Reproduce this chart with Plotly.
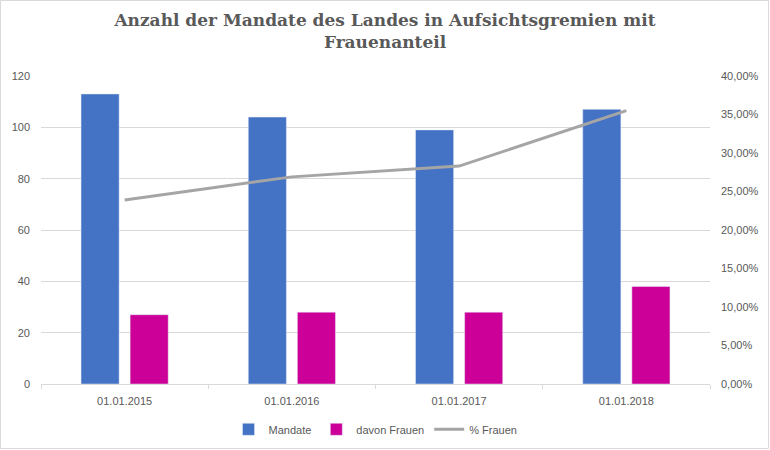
import plotly.graph_objects as go

categories = ["01.01.2015", "01.01.2016", "01.01.2017", "01.01.2018"]
mandate = [113, 104, 99, 107]
frauen = [27, 28, 28, 38]
pct_frauen = [0.239, 0.269, 0.283, 0.355]

W, H = 770, 450
L, R, T, B = 41, 60, 76, 66

fig = go.Figure()
fig.add_trace(go.Bar(x=categories, y=mandate, name="Mandate", marker_color="#4472C4"))
fig.add_trace(go.Bar(x=categories, y=frauen, name="davon Frauen", marker_color="#CC0099"))
fig.add_trace(go.Scatter(x=categories, y=pct_frauen, name="% Frauen", yaxis="y2",
                         mode="lines", line=dict(color="#A5A5A5", width=3)))

tickfont = dict(family="Liberation Sans, Arial, sans-serif", size=11, color="#595959")

fig.update_layout(
    width=W, height=H,
    margin=dict(l=L, r=R, t=T, b=B, autoexpand=False),
    paper_bgcolor="white", plot_bgcolor="white",
    separators=",.",
    barmode="group", bargap=0.413, bargroupgap=0.224,
    title=dict(text="<b>Anzahl der Mandate des Landes in Aufsichtsgremien mit<br>Frauenanteil</b>",
               x=0.5, xanchor="center", y=0.942, yanchor="top",
               font=dict(family="DejaVu Serif, serif", size=17, color="#595959")),
    xaxis=dict(showgrid=False, showline=True, linecolor="#D9D9D9", linewidth=1,
               ticks="outside", tickson="boundaries", ticklen=4, tickcolor="#D9D9D9",
               tickfont=tickfont, ticklabelstandoff=7, automargin=False),
    yaxis=dict(range=[0, 120], dtick=20, showgrid=True, gridcolor="#D9D9D9",
               zeroline=False, showline=False, tickfont=tickfont, ticklabelstandoff=10,
               automargin=False),
    yaxis2=dict(range=[0, 0.4], dtick=0.05, tickformat=".2%", overlaying="y", side="right",
                showgrid=False, zeroline=False, showline=False, tickfont=tickfont,
                ticklabelstandoff=10, automargin=False),
    legend=dict(orientation="h", x=0.5, xanchor="center", y=-0.1, yanchor="top",
                font=tickfont, traceorder="normal", itemwidth=30),
    shapes=[dict(type="rect", xref="paper", yref="paper",
                 x0=-(L - 0.5) / (W - L - R), x1=1 + (R - 1.5) / (W - L - R),
                 y0=-(B - 1.5) / (H - T - B), y1=1 + (T - 0.5) / (H - T - B),
                 line=dict(color="#D9D9D9", width=1), layer="below")],
)

fig.write_html("out.html", config={"displayModeBar": False},
               post_script="document.body.style.margin='0';")
